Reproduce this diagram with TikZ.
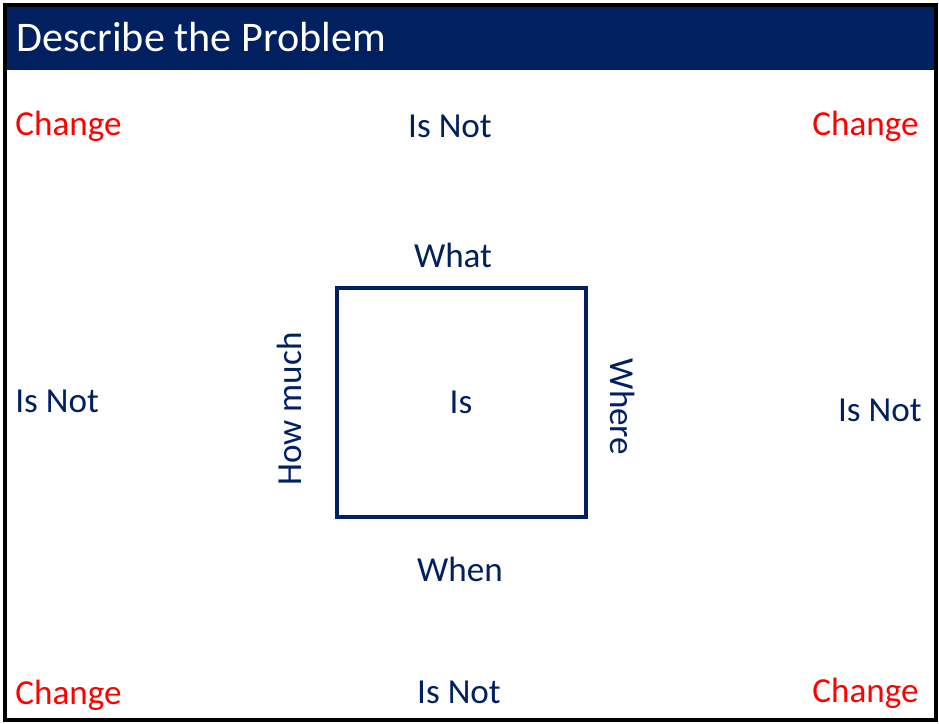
\documentclass[tikz,border=0pt]{standalone}
\usepackage{fontspec}
\setmainfont{Carlito}
\usepackage{tikz}
\definecolor{navy}{HTML}{002060}

\begin{document}
\begin{tikzpicture}[x = 0.02cm, y = -0.02cm,
		lbl/.style = {text = navy, font = \fontsize{20}{24}\selectfont, inner sep = 0pt},
		chg/.style = {lbl, text = red}]
		\useasboundingbox (0, 0) rectangle (939, 723);
		% header bar and frame
		\fill[navy] (5, 5) rectangle (936, 70);
		\draw[line width = 1.8pt] (5, 5) rectangle (936, 720);
		\node[anchor = base west, text = white, font = \fontsize{24}{29}\selectfont, inner sep = 0pt] (title) at (16, 52) {Describe the Problem};
		% the square
		\draw[navy, line width = 1.8pt] (337, 288) rectangle (586, 517);
		\node[lbl, anchor = base] (is) at (461, 413) {Is};
		\node[lbl, anchor = base] (what) at (453, 267) {What};
		\node[lbl, anchor = base] (when) at (460, 581) {When};
		\node[lbl, anchor = base, rotate = 90] (howmuch) at (301, 409) {How much};
		\node[lbl, anchor = base, rotate = -90] (where) at (610, 407) {Where};
		% is not
		\node[lbl, anchor = base] (isnottop) at (450, 137) {Is Not};
		\node[lbl, anchor = base west] (isnotleft) at (15, 412) {Is Not};
		\node[lbl, anchor = base east] (isnotright) at (922, 421) {Is Not};
		\node[lbl, anchor = base] (isnotbottom) at (459, 703) {Is Not};
		% corners
		\node[chg, anchor = base west] (chgtl) at (15, 135) {Change};
		\node[chg, anchor = base east] (chgtr) at (919, 135) {Change};
		\node[chg, anchor = base west] (chgbl) at (15, 704) {Change};
		\node[chg, anchor = base east] (chgbr) at (919, 702) {Change};
		\end{tikzpicture}
\end{document}
